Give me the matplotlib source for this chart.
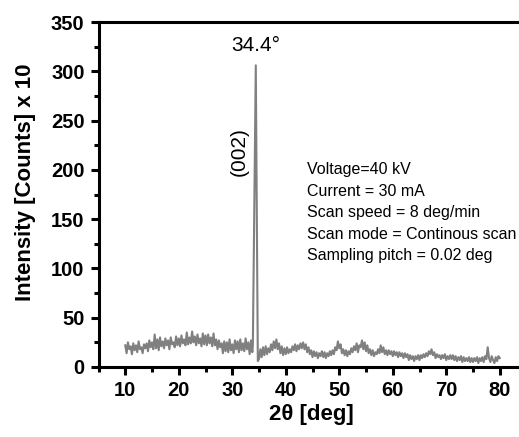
import numpy as np
import matplotlib
matplotlib.use("Agg")
import matplotlib.pyplot as plt
from matplotlib.ticker import MultipleLocator

plt.rcParams['font.family'] = ['Liberation Sans', 'DejaVu Sans']

# Baseline before the peak: 10.0 .. 33.75 deg, step 0.25
angle_start_1 = 10.0
intensity_1 = [
    22, 14, 25, 18,  21, 13, 24, 17,  22, 15, 26, 18,  20, 14, 23, 19,
    24, 16, 27, 20,  25, 18, 33, 19,  28, 17, 30, 21,  26, 19, 29, 22,
    27, 18, 30, 23,  25, 20, 31, 22,  29, 21, 32, 24,  28, 22, 35, 23,
    30, 24, 36, 25,  31, 22, 33, 24,  29, 21, 34, 23,  32, 22, 33, 24,
    30, 21, 34, 22,  28, 18, 27, 20,  24, 14, 26, 16,  25, 15, 28, 17,
    23, 14, 27, 18,  26, 15, 28, 17,  24, 16, 29, 18,  25, 13, 27, 15,
]
# (002) peak
peak_angles = [33.85, 34.4, 34.78]
peak_intensity = [22, 306, 6]
# Baseline after the peak: 35.0 .. 80.0 deg, step 0.25
angle_start_2 = 35.0
intensity_2 = [
    8, 18, 10, 20,  12, 21, 13, 19,  15, 23, 17, 26,  19, 28, 18, 24,
    14, 21, 12, 19,  13, 20, 14, 18,  15, 21, 17, 23,  16, 22, 18, 24,
    19, 25, 18, 23,  15, 20, 13, 17,  10, 16, 11, 15,  9, 14, 11, 16,
    10, 15, 9, 14,  11, 16, 12, 17,  13, 20, 17, 26,  19, 23, 14, 18,
    12, 17, 11, 16,  13, 19, 15, 21,  17, 24, 15, 22,  20, 27, 18, 25,
    16, 22, 14, 18,  12, 17, 11, 15,  13, 18, 14, 22,  15, 20, 13, 17,
    12, 17, 13, 16,  11, 16, 12, 15,  10, 15, 11, 14,  9, 14, 10, 13,
    7, 12, 8, 11,  6, 11, 8, 12,  7, 12, 9, 13,  10, 14, 11, 16,
    13, 18, 12, 15,  9, 13, 10, 12,  8, 12, 9, 13,  7, 11, 8, 12,
    8, 12, 7, 11,  6, 10, 7, 11,  5, 10, 6, 9,  6, 10, 5, 9,
    5, 9, 6, 10,  4, 9, 6, 10,  5, 11, 8, 20,  9, 5, 11, 7,
    4, 10, 6, 11,  9,
]
step = 0.25

x_ticks = [10, 20, 30, 40, 50, 60, 70, 80]
y_ticks = [0, 50, 100, 150, 200, 250, 300, 350]
info_lines = ["Voltage=40 kV", "Current = 30 mA", "Scan speed = 8 deg/min",
              "Scan mode = Continous scan", "Sampling pitch = 0.02 deg"]

x1 = angle_start_1 + step * np.arange(len(intensity_1))
x2 = angle_start_2 + step * np.arange(len(intensity_2))
x = np.concatenate([x1, peak_angles, x2])
y = np.concatenate([intensity_1, peak_intensity, intensity_2])

W, H = 519, 437
fig = plt.figure(figsize=(W / 100, H / 100), dpi=100)
ax = fig.add_axes([98.5 / W, 70 / H, 428 / W, 345 / H])
ax.plot(x, y, color='#808080', lw=1.5)

ax.set_xlim(5, 85)
ax.set_ylim(0, 350)
ax.set_xticks(x_ticks)
ax.set_yticks(y_ticks)
ax.xaxis.set_minor_locator(MultipleLocator(5))
ax.yaxis.set_minor_locator(MultipleLocator(25))
for s in ax.spines.values():
    s.set_linewidth(2.2)
ax.tick_params(which='major', direction='out', length=6, width=2.2, labelsize=14.5, pad=4)
ax.tick_params(which='minor', direction='out', length=3.5, width=2.2)
for lab in ax.get_xticklabels() + ax.get_yticklabels():
    lab.set_fontweight('bold')

ax.set_xlabel('2θ [deg]', fontsize=16, fontweight='bold')
ax.set_ylabel('Intensity [Counts] x 10', fontsize=16, fontweight='bold')
ax.xaxis.set_label_coords(0.497, -0.108)
ax.yaxis.set_label_coords(-0.147, 0.535)

ax.text(34.4, 326, '34.4°', fontsize=15, ha='center', va='center')
ax.text(31.4, 219, '(002)', fontsize=15, ha='center', va='center', rotation=90)
ax.text(43.9, 208, "\n".join(info_lines), fontsize=11.5, ha='left', va='top', linespacing=1.55)

fig.savefig('out.png', dpi=100)
